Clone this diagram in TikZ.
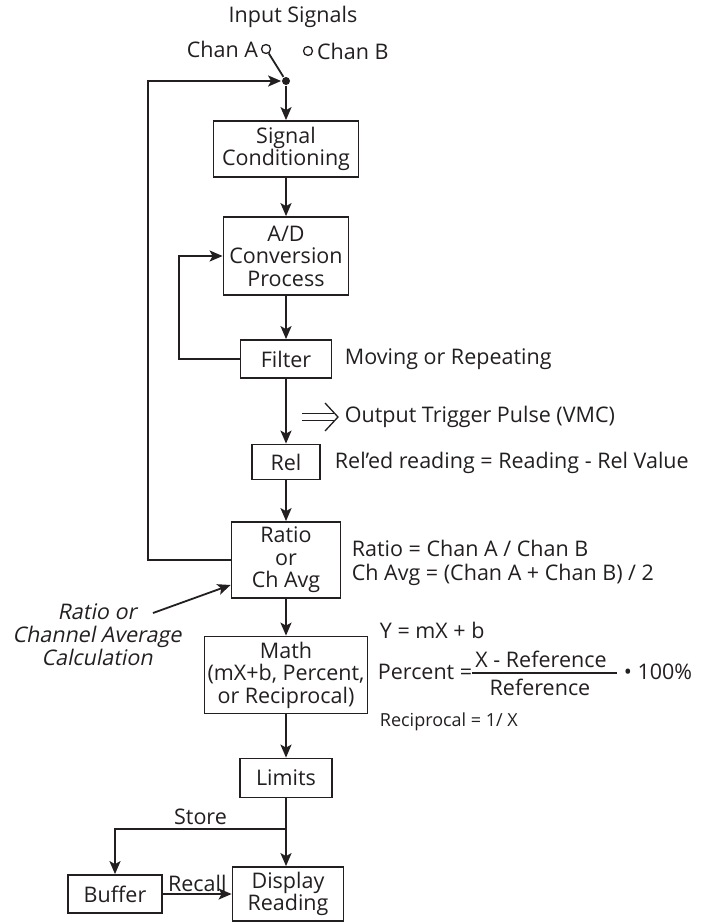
\documentclass[tikz,border=0pt]{standalone}
\usepackage{fontspec}
\setmainfont{Open Sans}[Ligatures=NoCommon]
\newfontfamily\slantfont{Open Sans}[FakeSlant=0.2, Ligatures=NoCommon]
\usetikzlibrary{positioning,arrows.meta,calc}
\definecolor{ink}{RGB}{35,31,32}

\begin{document}
\begin{tikzpicture}[
  x=1pt, y=-1pt,
  font=\fontsize{21.5}{22.5}\selectfont,
  color=ink, line width=1.8pt,
  box/.style={draw=ink, line width=1.8pt, inner sep=2pt, align=center},
  lbl/.style={inner sep=1pt},
  small/.style={font=\fontsize{18}{20}\selectfont, inner sep=1pt},
  arr/.style={-{Stealth[length=13pt, width=11pt, inset=3pt]}, line width=1.8pt, draw=ink},
  dbl/.style={double=white, double distance=5.5pt, line width=1.3pt},
  pin/.style={circle, draw=ink, line width=1.3pt, minimum size=9pt, inner sep=0pt},
]
\useasboundingbox (0,0) rectangle (722,923);

% ---------- Input switch ----------
\node[lbl] (title) at (293,17) {Input Signals};
\node[pin] (chA) at (266,49) {};
\node[pin] (chB) at (308,51) {};
\node[lbl, anchor=east, inner sep=2pt] (chAtxt) at (chA.west) {Chan A};
\node[lbl, anchor=west, inner sep=3pt] (chBtxt) at (chB.east) {Chan B};
\node[circle, fill=ink, minimum size=8pt, inner sep=0pt] (sw) at (286,81) {};
\draw (chA) -- (sw);

% ---------- Main chain ----------
\node[box, minimum width=145pt, minimum height=56pt] (cond) at (286,149) {Signal\\Conditioning};
\node[box, minimum width=125pt, minimum height=78pt] (adc) at (286,256) {A/D\\Conversion\\Process};
\node[box, minimum width=91pt, minimum height=38pt] (filter) at (286,359) {Filter};
\node[box, minimum width=68pt, minimum height=35pt] (rel) at (286,462) {Rel};
\node[box, minimum width=109pt, minimum height=76pt] (ratio) at (286,560) {Ratio\\or\\Ch Avg};
\node[box, minimum width=163pt, minimum height=77pt] (math) at (286,675) {Math\\(mX+b, Percent,\\or Reciprocal)};
\node[box, minimum width=92pt, minimum height=39pt] (limits) at (286,778) {Limits};
\node[box, minimum width=111pt, minimum height=54pt] (disp) at (288,894) {Display\\Reading};
\node[box, minimum width=94pt, minimum height=38pt] (buffer) at (115,894) {Buffer};

\draw[arr] (sw) -- (cond);
\draw[arr] (cond) -- (adc);
\draw[arr] (adc) -- (filter);
\draw[arr] (filter) -- (rel);
\draw[arr] (rel) -- (ratio);
\draw[arr] (ratio) -- (math);
\draw[arr] (math) -- (limits);
\draw[arr] (limits) -- (limits |- disp.north);

% feedback loops
\coordinate (fbk) at (179,359);
\draw[arr] (filter.west) -- (fbk) |- (adc.west);
\coordinate (loop) at (148,560);
\draw[arr] (ratio.west) -- (loop) |- (sw);

% ---------- Notes on the right ----------
\node[lbl, anchor=west] (movtxt) at (343,359) {Moving or Repeating};
\node[lbl, anchor=west] (trig) at (343,417) {Output Trigger Pulse (VMC)};
\coordinate (trigS) at (302,417);
\coordinate (trigE) at (338,417);
\draw[dbl, shorten >=3.5pt] (trigS) -- (trigE);
\draw[line width=1.3pt] ($(trigE)+(-13,-14)$) -- (trigE) -- ($(trigE)+(-13,14)$);
\node[lbl, anchor=west] (reltxt) at (333,463) {Rel’ed reading = Reading - Rel Value};
\node[lbl, anchor=west, align=left, font=\fontsize{21.5}{24}\selectfont] (ratiotxt) at (350,563)
  {Ratio = Chan A / Chan B\\Ch Avg = (Chan A + Chan B) / 2};

% math formulas
\node[lbl, anchor=west] (ytxt) at (378,630) {Y = mX + b};
\node[lbl, anchor=west] (pcttxt) at (376,672) {Percent =};
\node[lbl] (num) at (541,659) {X - Reference};
\node[lbl] (den) at (540,687) {Reference};
\draw[line width=1.3pt] (472,673) -- (617,673);
\node[lbl, anchor=west] (hund) at (622,672) {• 100\%};
\node[small, anchor=west] (rectxt) at (378,722) {Reciprocal = 1/ X};

% ---------- Note on the left ----------
\node[lbl, align=center, font=\fontsize{21.5}{23}\slantfont] (calc) at (97,635)
  {Ratio or\\Channel Average\\Calculation};
\coordinate (calcS) at (153,613);
\draw[arr] (calcS) -- ($(ratio.west)+(0,25)$);

% ---------- Store and recall ----------
\coordinate (store) at (286,829);
\draw[arr] (store) -| node[pos=0.25, above] {Store} (buffer);
\draw[arr] (buffer) -- node[above, inner sep=1pt] {Recall} (disp);

\end{tikzpicture}
\end{document}
